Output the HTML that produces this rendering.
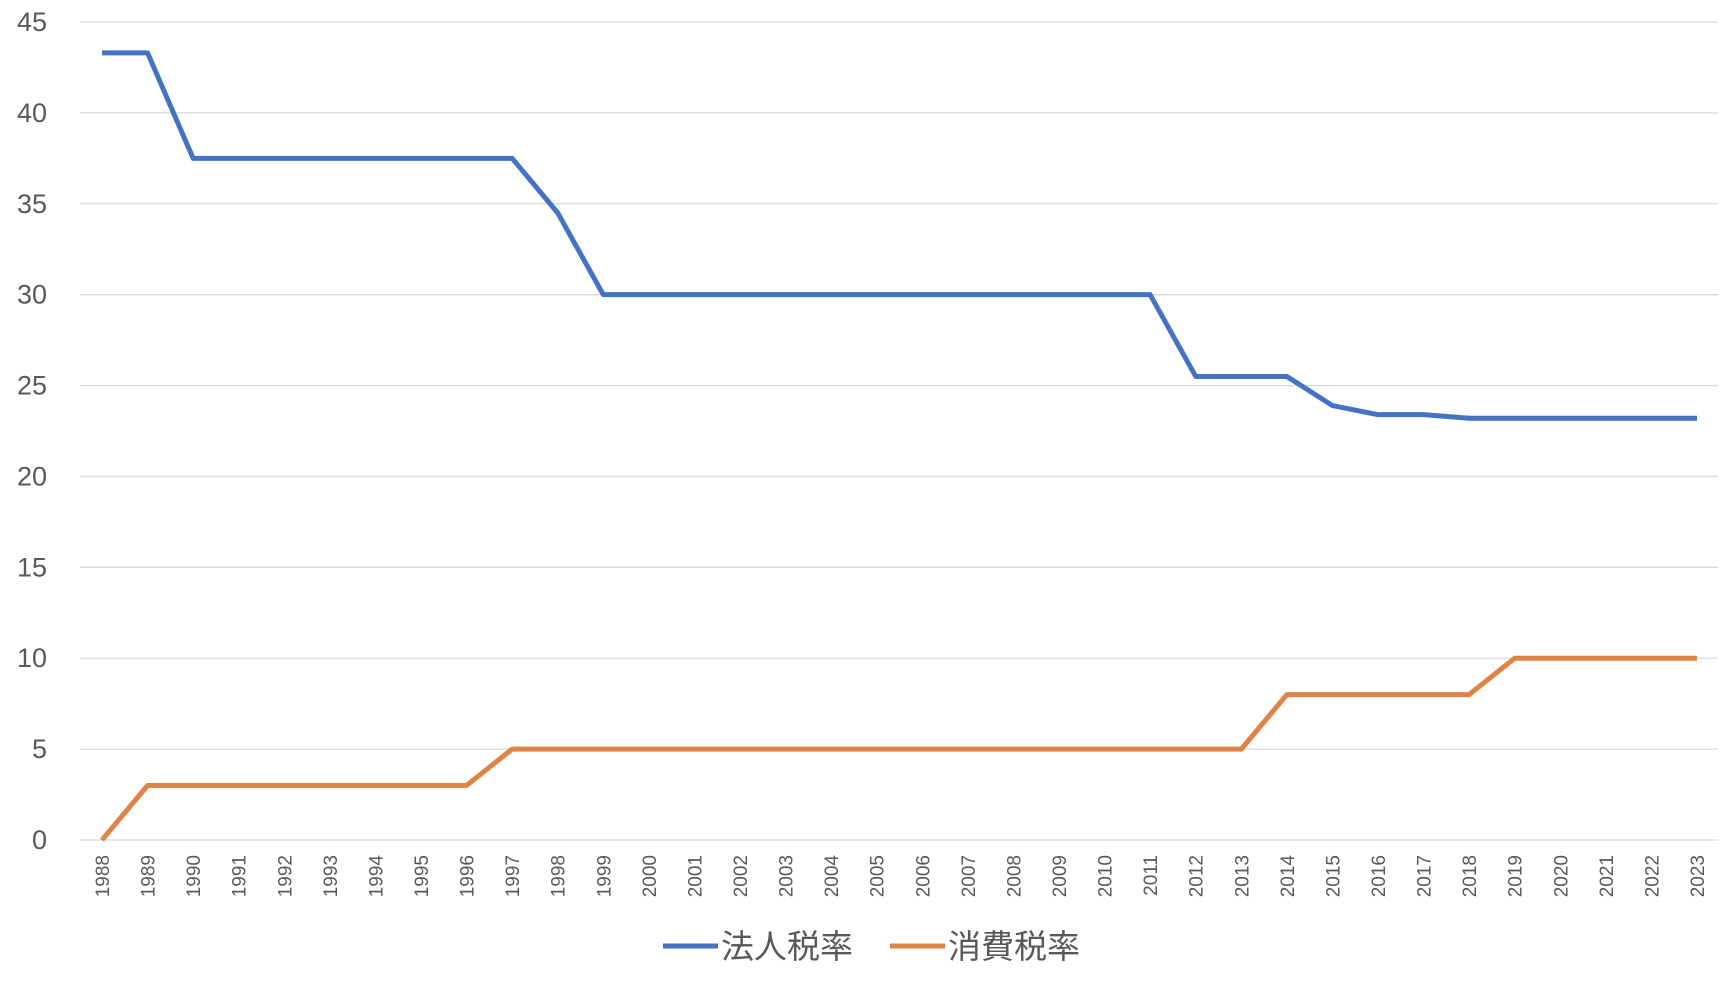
<!DOCTYPE html>
<html><head><meta charset="utf-8"><style>
body{margin:0;background:#fff;width:1728px;height:978px;overflow:hidden}
svg text{font-family:"Liberation Sans","Noto Sans CJK JP",sans-serif;fill:#595959}
</style></head><body>
<svg id="chart" width="1728" height="978" xmlns="http://www.w3.org/2000/svg">
<g id="grid"></g><g id="yl"></g><g id="xl"></g><g id="series"></g>
<g>
<line x1="663" y1="946" x2="718" y2="946" stroke="#4472C4" stroke-width="5"/>
<text x="721" y="958" font-size="33">法人税率</text>
<line x1="890" y1="946" x2="945" y2="946" stroke="#DF8444" stroke-width="5"/>
<text x="948" y="958" font-size="33">消費税率</text>
</g>
</svg>
<script>
const years=[];for(let y=1988;y<=2023;y++)years.push(String(y));
const corporateTax=[43.3,43.3,37.5,37.5,37.5,37.5,37.5,37.5,37.5,37.5,34.5,30,30,30,30,30,30,30,30,30,30,30,30,30,25.5,25.5,25.5,23.9,23.4,23.4,23.2,23.2,23.2,23.2,23.2,23.2];
const consumptionTax=[0,3,3,3,3,3,3,3,3,5,5,5,5,5,5,5,5,5,5,5,5,5,5,5,5,5,8,8,8,8,8,10,10,10,10,10];
const yTicks=[0,5,10,15,20,25,30,35,40,45];
const NS="http://www.w3.org/2000/svg";
const x0=102,x1=1697,yTop=22,yBot=840,yMax=45;
const X=i=>x0+(x1-x0)*i/(years.length-1);
const Y=v=>yBot-(yBot-yTop)*v/yMax;
function mk(t,a,p){const e=document.createElementNS(NS,t);for(const k in a)e.setAttribute(k,a[k]);p.appendChild(e);return e;}
const grid=document.getElementById('grid'),yl=document.getElementById('yl'),xl=document.getElementById('xl'),ser=document.getElementById('series');
yTicks.forEach(v=>{
 const l=mk('line',{x1:80,x2:1718,y1:Y(v),y2:Y(v),stroke:'#d9d9d9','stroke-width':1.3},grid);
 
 
 const t=mk('text',{x:47,y:Y(v)+9,'text-anchor':'end','font-size':27},yl);t.textContent=v;
 
 
});
years.forEach((yr,i)=>{
 const t=mk('text',{x:0,y:0,'text-anchor':'end','font-size':19,transform:`translate(${X(i)+7},${855}) rotate(-90)`},xl);t.textContent=yr;
 
 
});
function line(data,color,name){
 const p=mk('polyline',{points:data.map((v,i)=>X(i)+','+Y(v)).join(' '),fill:'none',stroke:color,'stroke-width':5,'stroke-linejoin':'round'},ser);
 
 
}
line(corporateTax,'#4472C4','corporate-tax-line');
line(consumptionTax,'#DF8444','consumption-tax-line');
</script>
</body></html>
